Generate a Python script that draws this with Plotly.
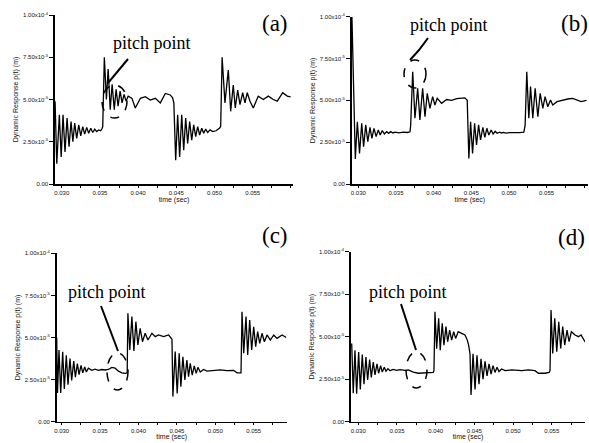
import plotly.graph_objects as go

# ---------------- data (time in s, response in units of 1e-5 m) ----------------
t_a = [0.02913, 0.02935, 0.02969, 0.02993, 0.03017, 0.03043, 0.0307, 0.03096, 0.03122, 0.03146,
       0.0317, 0.03196, 0.03223, 0.03249, 0.03275, 0.03301, 0.03327, 0.03353, 0.0338, 0.03406,
       0.03432, 0.03458, 0.03484, 0.0351, 0.0353, 0.03537, 0.03558, 0.03585, 0.03608, 0.03635,
       0.0366, 0.03688, 0.03712, 0.03738, 0.03764, 0.0379, 0.03816, 0.03842, 0.0387, 0.0392,
       0.03963, 0.0403, 0.04094, 0.0416, 0.04225, 0.04291, 0.04356, 0.04421, 0.04452, 0.04468,
       0.04492, 0.04518, 0.04544, 0.04571, 0.04597, 0.04623, 0.04649, 0.04675, 0.04702, 0.04728,
       0.04754, 0.0478, 0.04806, 0.04833, 0.04859, 0.04885, 0.04911, 0.04942, 0.04977, 0.0502,
       0.05064, 0.05081, 0.0510, 0.05137, 0.05181, 0.05212, 0.05246, 0.05272, 0.05304, 0.05334,
       0.05369, 0.05399, 0.05429, 0.05465, 0.05508, 0.05573, 0.05639, 0.05704, 0.0577, 0.05822,
       0.05893, 0.05953, 0.05997]
v_a = [4.9, 1.2, 4.1, 1.6, 4.1, 1.9, 3.9, 2.2, 3.7, 2.5,
       3.6, 2.7, 3.5, 2.85, 3.4, 2.95, 3.35, 3.0, 3.3, 3.05,
       3.25, 3.1, 3.2, 3.15, 3.3, 3.4, 7.5, 5.0, 6.8, 4.4,
       5.9, 4.4, 5.6, 4.6, 5.5, 4.8, 5.3, 4.9, 5.2, 5.07,
       4.5, 5.07, 5.17, 4.97, 5.07, 4.8, 5.36, 5.27, 5.1, 4.8,
       1.4, 4.1, 1.6, 4.1, 2.0, 3.9, 2.4, 3.7, 2.6, 3.5,
       2.8, 3.4, 2.9, 3.3, 3.0, 3.25, 3.05, 3.2, 3.1, 3.15,
       3.3, 3.4, 7.5, 4.8, 6.75, 4.3, 5.86, 4.5, 5.56, 4.7,
       5.4, 4.8, 5.4, 4.9, 4.5, 5.2, 5.0, 5.2, 5.0, 4.9,
       5.4, 5.2, 5.15]

t_b = [0.02915, 0.0296, 0.02987, 0.03016, 0.03045, 0.0307, 0.03098, 0.03126, 0.03155, 0.0318,
       0.03208, 0.03236, 0.03265, 0.0329, 0.03318, 0.03347, 0.03377, 0.03403, 0.0343, 0.0346,
       0.03487, 0.0354, 0.03597, 0.0365, 0.03686, 0.03695, 0.03722, 0.03752, 0.03788, 0.03818,
       0.03854, 0.03885, 0.03915, 0.03951, 0.03987, 0.04017, 0.04048, 0.04106, 0.04172, 0.04239,
       0.04305, 0.04371, 0.04415, 0.04446, 0.04468, 0.04491, 0.04517, 0.04544, 0.0457, 0.04597,
       0.04623, 0.04654, 0.0468, 0.04707, 0.04733, 0.04764, 0.0479, 0.04817, 0.04843, 0.04875,
       0.04902, 0.04928, 0.04963, 0.05008, 0.05074, 0.0514, 0.05198, 0.05215, 0.05237, 0.05264,
       0.05287, 0.05317, 0.05348, 0.05384, 0.05415, 0.0545, 0.0548, 0.05516, 0.05552, 0.05582,
       0.05639, 0.05715, 0.05781, 0.05847, 0.05914, 0.05958, 0.0603]
v_b = [10.0, 1.5, 3.72, 1.83, 3.63, 2.23, 3.53, 2.53, 3.39, 2.73,
       3.33, 2.83, 3.23, 2.93, 3.19, 2.99, 3.13, 3.03, 3.13, 3.05,
       3.1, 3.06, 3.1, 3.08, 3.12, 3.5, 6.71, 3.93, 5.72, 3.83,
       5.72, 4.02, 5.42, 4.52, 5.22, 4.72, 5.12, 4.82, 5.05, 5.0,
       5.1, 5.12, 5.15, 5.0, 1.53, 3.72, 1.83, 3.63, 2.33, 3.53,
       2.63, 3.39, 2.79, 3.33, 2.93, 3.23, 2.99, 3.15, 3.03, 3.1,
       3.05, 3.08, 3.04, 3.07, 3.05, 3.07, 3.1, 3.5, 6.71, 3.93,
       5.82, 3.93, 5.72, 4.02, 5.42, 4.52, 5.22, 4.62, 5.02, 4.72,
       4.92, 5.02, 5.08, 5.12, 5.02, 4.92, 5.0]

t_c = [0.02935, 0.02945, 0.02965, 0.02987, 0.03013, 0.03034, 0.0306, 0.03082, 0.03108, 0.0313,
       0.03157, 0.03178, 0.03204, 0.03226, 0.03252, 0.03274, 0.033, 0.03321, 0.03347, 0.03392,
       0.03435, 0.03478, 0.03522, 0.03565, 0.03608, 0.03653, 0.03696, 0.03739, 0.03783, 0.03826,
       0.03853, 0.03862, 0.03887, 0.03914, 0.0394, 0.03966, 0.03992, 0.04022, 0.04052, 0.04087,
       0.04123, 0.04175, 0.04218, 0.04261, 0.04327, 0.04392, 0.04418, 0.04436, 0.04448, 0.04478,
       0.04504, 0.0453, 0.04552, 0.04578, 0.04604, 0.0463, 0.04652, 0.04674, 0.047, 0.04726,
       0.04752, 0.04774, 0.04804, 0.04848, 0.04891, 0.04978, 0.05065, 0.05152, 0.05239, 0.05283,
       0.05326, 0.05335, 0.05348, 0.0537, 0.054, 0.05422, 0.05448, 0.05474, 0.055, 0.05526,
       0.05552, 0.05578, 0.05609, 0.05639, 0.05674, 0.05717, 0.05761, 0.05804, 0.0587, 0.05925]
v_c = [5.0, 1.7, 4.26, 1.7, 4.15, 1.95, 3.95, 2.2, 3.75, 2.45,
       3.6, 2.65, 3.45, 2.8, 3.35, 2.9, 3.25, 2.95, 3.18, 3.05,
       3.12, 3.05, 3.1, 3.07, 3.1, 3.22, 3.18, 3.0, 2.9, 2.87,
       2.9, 6.44, 4.26, 6.24, 4.2, 5.94, 4.56, 5.55, 4.75, 5.25,
       4.85, 5.25, 5.05, 5.15, 5.05, 5.15, 5.0, 4.9, 1.49, 4.16,
       1.68, 4.06, 2.08, 3.86, 2.48, 3.66, 2.67, 3.47, 2.77, 3.31,
       2.87, 3.23, 2.95, 3.1, 3.0, 3.05, 3.08, 3.03, 3.05, 2.9,
       2.87, 2.9, 6.53, 4.06, 6.24, 3.96, 6.04, 4.26, 5.64, 4.46,
       5.35, 4.65, 5.25, 4.75, 5.15, 4.85, 5.15, 4.95, 5.15, 5.0]

t_d = [0.02915, 0.02935, 0.02957, 0.02979, 0.03005, 0.03026, 0.03052, 0.03074, 0.03099, 0.03121,
       0.03147, 0.03168, 0.03194, 0.03216, 0.03242, 0.03263, 0.03289, 0.0331, 0.03336, 0.03358,
       0.03384, 0.0341, 0.03452, 0.03496, 0.03539, 0.03603, 0.03646, 0.03711, 0.03775, 0.0384,
       0.03904, 0.03969, 0.03978, 0.03991, 0.04013, 0.04039, 0.04059, 0.04085, 0.04107, 0.04133,
       0.04155, 0.04181, 0.04207, 0.04233, 0.04258, 0.04292, 0.04336, 0.04379, 0.04409, 0.04426,
       0.04444, 0.04457, 0.04483, 0.04509, 0.04534, 0.0456, 0.04586, 0.04612, 0.04638, 0.04664,
       0.0469, 0.04716, 0.04741, 0.04767, 0.04793, 0.04819, 0.04853, 0.04897, 0.04983, 0.05112,
       0.05198, 0.05284, 0.05328, 0.05414, 0.05466, 0.05478, 0.05491, 0.05513, 0.05539, 0.05565,
       0.05591, 0.05616, 0.05642, 0.05668, 0.05698, 0.05724, 0.05754, 0.05802, 0.05845, 0.05879,
       0.05931]
v_d = [4.6, 1.67, 4.2, 1.65, 4.1, 1.9, 3.95, 2.2, 3.8, 2.45,
       3.65, 2.6, 3.5, 2.75, 3.4, 2.85, 3.3, 2.92, 3.2, 2.97,
       3.12, 3.0, 3.08, 3.02, 3.06, 3.02, 3.04, 2.92, 2.85, 2.88,
       2.9, 2.9, 3.0, 6.47, 4.3, 6.08, 4.2, 5.79, 4.5, 5.59,
       4.7, 5.39, 4.8, 5.3, 4.9, 5.3, 5.2, 5.1, 4.8, 4.5,
       4.0, 1.57, 4.0, 1.9, 3.9, 2.2, 3.7, 2.5, 3.55, 2.7,
       3.4, 2.8, 3.3, 2.9, 3.2, 2.95, 3.1, 3.0, 3.05, 3.0,
       3.05, 3.0, 2.85, 2.85, 2.9, 3.0, 6.57, 4.02, 6.08, 4.12,
       5.88, 4.31, 5.59, 4.51, 5.39, 4.71, 5.29, 5.1, 5.0, 5.1,
       4.7]

panel_labels = ["(a)", "(b)", "(c)", "(d)"]
x_tickvals = [0.030, 0.035, 0.040, 0.045, 0.050, 0.055]
x_ticktext = ["0.030", "0.035", "0.040", "0.045", "0.050", "0.055"]
y_tickvals = [0.0, 2.5e-5, 5.0e-5, 7.5e-5, 1.0e-4]
y_ticktext = ["0.00", "2.50x10<sup>-5</sup>", "5.00x10<sup>-5</sup>",
              "7.50x10<sup>-5</sup>", "1.00x10<sup>-4</sup>"]
x_title = "time (sec)"
y_title = "Dynamic Response p(t) (m)"
note_text = "pitch point"
SCALE = 1e-5

series = [(t_a, v_a), (t_b, v_b), (t_c, v_c), (t_d, v_d)]
for t, v in series:
    assert len(t) == len(v)

W, H = 589, 443


def px(x):
    return x / W


def py(y):
    return 1 - y / H


# panel geometry (pixels): left, right, top, bottom, x-range
geo = [
    (55, 293, 15, 184, [0.02912, 0.06028]),
    (351.7, 588, 16.7, 184, [0.02912, 0.0605]),
    (56.7, 286.7, 253.3, 421.7, [0.02935, 0.0593]),
    (351, 585, 251.7, 421.7, [0.02906, 0.0593]),
]

fig = go.Figure()
layout = {}
for i, ((t, v), (l, r, tp, bt, xr)) in enumerate(zip(series, geo)):
    n = "" if i == 0 else str(i + 1)
    fig.add_trace(go.Scatter(
        x=t, y=[val * SCALE for val in v], mode="lines",
        line=dict(color="black", width=1.3), xaxis="x" + n, yaxis="y" + n,
        showlegend=False, hoverinfo="skip"))
    tickfont = dict(family="Liberation Sans, Arial", size=6, color="#111")
    layout["xaxis" + n] = dict(
        domain=[px(l), px(r)], range=xr, anchor="y" + n,
        tickvals=x_tickvals, ticktext=x_ticktext, tickfont=tickfont,
        showline=True, linecolor="black", linewidth=1.6,
        ticks="outside", ticklen=2, tickwidth=1, tickcolor="black",
        minor=dict(ticks="outside", ticklen=2, tickcolor="black", dtick=0.0025, tick0=0.0275),
        showgrid=False, zeroline=False, automargin=False,
        title=dict(text=x_title, font=dict(family="Liberation Sans, Arial", size=7, color="#111"), standoff=0),
    )
    layout["yaxis" + n] = dict(
        domain=[py(bt), py(tp)], range=[0, 1.0e-4], anchor="x" + n,
        tickvals=y_tickvals, ticktext=y_ticktext, tickfont=tickfont,
        showline=True, linecolor="black", linewidth=1.6,
        ticks="outside", ticklen=4, tickwidth=1, tickcolor="black",
        showgrid=False, zeroline=False, automargin=False,
        title=dict(text=y_title, font=dict(family="Liberation Sans, Arial", size=7, color="#111"), standoff=3),
    )

annotations = []
label_pos = [(275, 23), (574, 23), (275, 236), (571, 237)]
for lab, (x, y) in zip(panel_labels, label_pos):
    annotations.append(dict(text=lab, x=px(x), y=py(y), xref="paper", yref="paper",
                            showarrow=False, xanchor="center", yanchor="middle",
                            font=dict(family="Liberation Serif, Times New Roman", size=23, color="black")))
note_pos = [(152, 43), (449, 25), (107, 292), (408, 292)]
for (x, y) in note_pos:
    annotations.append(dict(text=note_text, x=px(x), y=py(y), xref="paper", yref="paper",
                            showarrow=False, xanchor="center", yanchor="middle",
                            font=dict(family="Liberation Serif, Times New Roman", size=18, color="black")))

shapes = []
ellipses = [(102, 127, 85, 118), (404, 426, 60, 88), (107, 128, 353, 390), (406, 427, 352, 388)]
for (x0, x1, y0, y1) in ellipses:
    shapes.append(dict(type="circle", xref="paper", yref="paper",
                       x0=px(x0), x1=px(x1), y0=py(y1), y1=py(y0),
                       line=dict(color="black", width=1.5, dash="dash")))
pointers = [
    [(128, 59), (108, 83)],
    [(428, 38), (419, 50), (410, 60)],
    [(101, 306), (118, 351)],
    [(401, 304), (416, 350)],
]
for pts in pointers:
    path = "M " + " L ".join(f"{px(x):.5f},{py(y):.5f}" for x, y in pts)
    shapes.append(dict(type="path", xref="paper", yref="paper", path=path,
                       line=dict(color="black", width=2)))

fig.update_layout(
    width=W, height=H, margin=dict(l=0, r=0, t=0, b=0),
    paper_bgcolor="white", plot_bgcolor="white",
    annotations=annotations, shapes=shapes, **layout)

fig.write_html("out.html", config={"displayModeBar": False, "staticPlot": True},
               post_script="document.body.style.margin='0px';document.body.style.overflow='hidden';")
